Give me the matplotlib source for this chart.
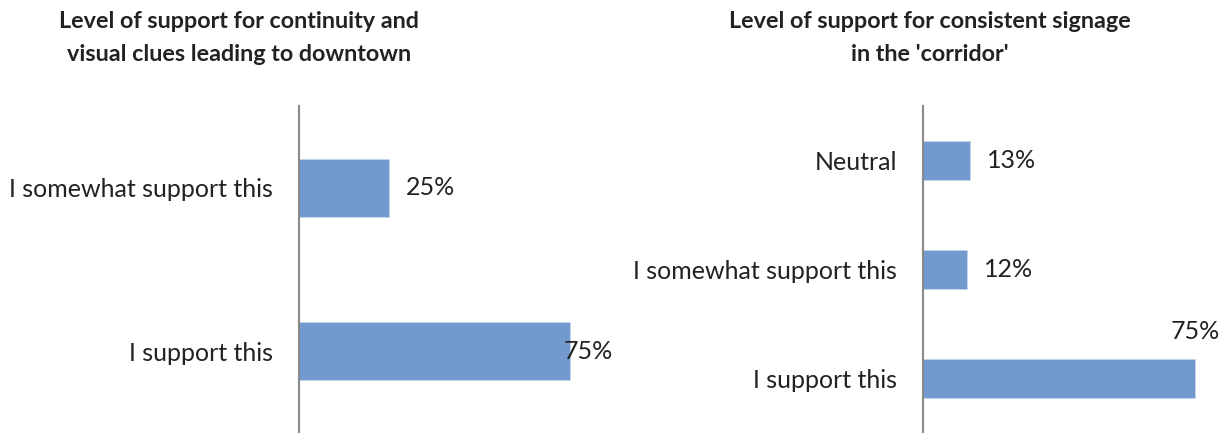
import matplotlib
matplotlib.use('Agg')
import matplotlib.pyplot as plt

# 字体和颜色
plt.rcParams['font.family'] = ['Lato', 'DejaVu Sans']
bar_color = '#729acf'
axis_color = '#898989'
text_color = '#222222'

# 数据
left_title = 'Level of support for continuity and\nvisual clues leading to downtown'
left_cats = ['I support this', 'I somewhat support this']
left_vals = [0.75, 0.25]

right_title = "Level of support for consistent signage\nin the 'corridor'"
right_cats = ['I support this', 'I somewhat support this', 'Neutral']
right_vals = [0.75, 0.12, 0.13]

W, H = 1226, 433
fig = plt.figure(figsize=(W / 100, H / 100), dpi=100)


def px_axes(x0, y0, x1, y1):
    # 像素坐标转成 figure 坐标
    return fig.add_axes([x0 / W, 1 - y1 / H, (x1 - x0) / W, (y1 - y0) / H])


def draw(ax, cats, vals, xmax, bh):
    y = list(range(len(cats)))
    ax.barh(y, vals, height=bh, color=bar_color, edgecolor='#c5d6ee', linewidth=0.6)
    ax.set_xlim(0, xmax)
    ax.set_ylim(-0.5, len(cats) - 0.5)
    ax.set_yticks(y)
    ax.set_yticklabels(cats, fontsize=18, color=text_color)
    ax.tick_params(axis='y', length=0, pad=18.5)
    ax.set_xticks([])
    for s in ['top', 'right', 'bottom']:
        ax.spines[s].set_visible(False)
    ax.spines['left'].set_color(axis_color)
    ax.spines['left'].set_linewidth(1.5)
    ax.patch.set_alpha(0)
    return y


# 左图
ax1 = px_axes(299, 106, 660, 433)
y1 = draw(ax1, left_cats, left_vals, 1.0, 0.356)
ax1.annotate('{:.0%}'.format(left_vals[1]), (left_vals[1], y1[1]), xytext=(17, 0),
             textcoords='offset pixels', va='center', ha='left', fontsize=18, color=text_color)
ax1.annotate('{:.0%}'.format(left_vals[0]), (left_vals[0], y1[0]), xytext=(-6, 0),
             textcoords='offset pixels', va='center', ha='left', fontsize=18, color=text_color)
fig.text(239 / W, 1 - 38 / H, left_title, ha='center', va='center', fontsize=16.8,
         fontweight='bold', color=text_color, linespacing=1.7)

# 右图
ax2 = px_axes(923, 106, 1213, 433)
y2 = draw(ax2, right_cats, right_vals, 0.8, 0.35)
for v, yy in zip(right_vals[1:], y2[1:]):
    ax2.annotate('{:.0%}'.format(v), (v, yy), xytext=(17, 0),
                 textcoords='offset pixels', va='center', ha='left', fontsize=18, color=text_color)
ax2.annotate('{:.0%}'.format(right_vals[0]), (right_vals[0], y2[0]), xytext=(0, 47),
             textcoords='offset pixels', va='center', ha='center', fontsize=18,
             color=text_color, annotation_clip=False)
fig.text(930 / W, 1 - 38 / H, right_title, ha='center', va='center', fontsize=16.8,
         fontweight='bold', color=text_color, linespacing=1.7)

fig.savefig('out.png', dpi=100)
